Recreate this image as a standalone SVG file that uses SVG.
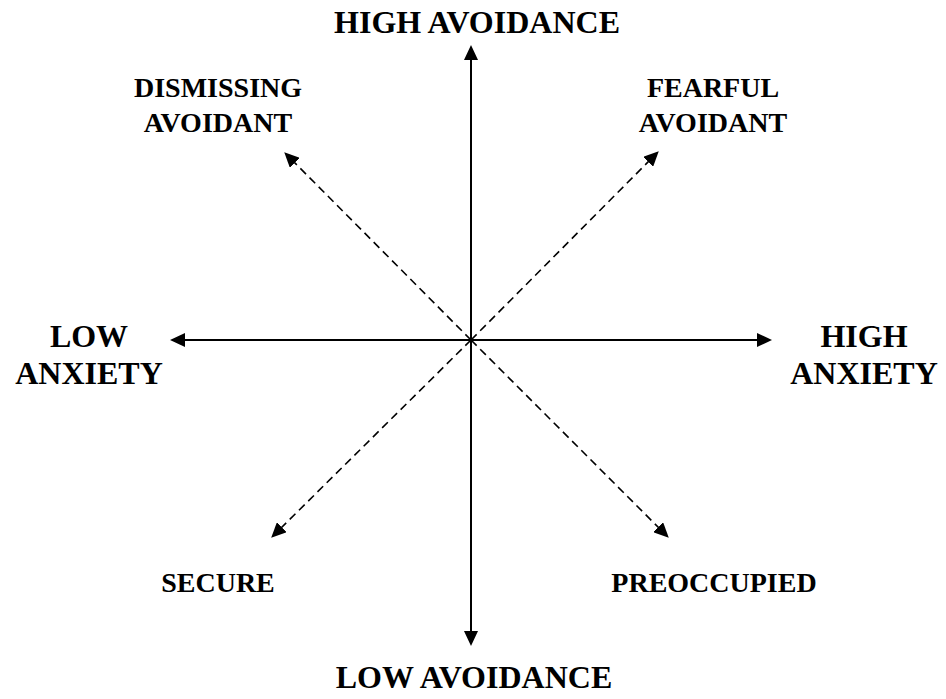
<svg xmlns="http://www.w3.org/2000/svg" width="946" height="699" viewBox="0 0 946 699">
<style>
text{font-family:"Liberation Serif","Times New Roman",serif;font-weight:bold;fill:#000;text-anchor:middle}
.big{font-size:32px}
.sm{font-size:28px}
.axis{stroke:#000;stroke-width:2;fill:none}
.dash{stroke:#000;stroke-width:1.6;fill:none;stroke-dasharray:8 5}
</style>
<defs>
<marker id="ah" markerUnits="userSpaceOnUse" markerWidth="16" markerHeight="14" viewBox="0 0 16 14" refX="4" refY="7" orient="auto-start-reverse">
<path d="M0,0 L15,7 L0,14 z" fill="#000"/>
</marker>
</defs>
<rect width="946" height="699" fill="#fff"/>
<g id="connectors">
<line class="axis" x1="471" y1="635" x2="471" y2="56" marker-start="url(#ah)" marker-end="url(#ah)"/>
<line class="axis" x1="181" y1="340" x2="761" y2="340" marker-start="url(#ah)" marker-end="url(#ah)"/>
<line class="dash" x1="471" y1="340" x2="292" y2="160" marker-end="url(#ah)"/>
<line class="dash" x1="471" y1="340" x2="651" y2="159" marker-end="url(#ah)"/>
<line class="dash" x1="471" y1="340" x2="279" y2="530" marker-end="url(#ah)"/>
<line class="dash" x1="471" y1="340" x2="661" y2="530" marker-end="url(#ah)"/>
</g>
<g id="high-avoidance"><text class="big" x="477" y="33">HIGH AVOIDANCE</text></g>
<g id="low-avoidance"><text class="big" x="474" y="688">LOW AVOIDANCE</text></g>
<g id="low-anxiety"><text class="big" x="89" y="347">LOW</text><text class="big" x="89" y="384">ANXIETY</text></g>
<g id="high-anxiety"><text class="big" x="864" y="347">HIGH</text><text class="big" x="864" y="384">ANXIETY</text></g>
<g id="dismissing-avoidant"><text class="sm" x="218" y="97">DISMISSING</text><text class="sm" x="218" y="132">AVOIDANT</text></g>
<g id="fearful-avoidant"><text class="sm" x="713" y="97">FEARFUL</text><text class="sm" x="713" y="132">AVOIDANT</text></g>
<g id="secure"><text class="sm" x="218" y="592">SECURE</text></g>
<g id="preoccupied"><text class="sm" x="714" y="592">PREOCCUPIED</text></g>
</svg>
